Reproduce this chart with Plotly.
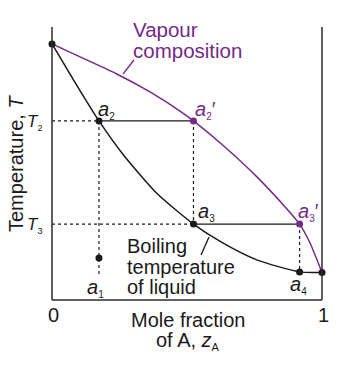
import plotly.graph_objects as go

# ---- data (mole fraction of A, temperature in axis units 0..1) ----
liquid_x = [0.0, 0.089, 0.174, 0.264, 0.388, 0.524, 0.634, 0.758, 0.917, 1.0]
liquid_y = [0.938, 0.791, 0.656, 0.532, 0.391, 0.278, 0.208, 0.147, 0.103, 0.101]
vapour_x = [0.0, 0.116, 0.240, 0.363, 0.486, 0.524, 0.634, 0.758, 0.857, 0.917, 0.956, 1.0]
vapour_y = [0.938, 0.885, 0.828, 0.762, 0.684, 0.656, 0.566, 0.452, 0.348, 0.278, 0.208, 0.101]

a1 = (0.174, 0.154)
a2 = (0.174, 0.656)
a2p = (0.524, 0.656)
a3 = (0.524, 0.278)
a3p = (0.917, 0.278)
a4 = (0.917, 0.103)
T2 = a2[1]
T3 = a3[1]
dotted_bottom = 0.092

x_ticks = [0, 1]
x_tick_labels = ["0", "1"]

PURPLE = "#742b86"
BLACK = "#1a1a1a"
AXIS = "#2b2b2b"
FONT = "Liberation Sans, Arial, sans-serif"

W, H = 359, 371
X0PX, X1PX = 52, 322
Y0PX, Y1PX = 300, 27


def px2x(px):
    return (px - X0PX) / (X1PX - X0PX)


def px2y(py):
    return (Y0PX - py) / (Y0PX - Y1PX)


fig = go.Figure()

# helper lines (dotted / tie lines)
dot = dict(color=BLACK, width=1.2, dash="dot")
solid = dict(color=BLACK, width=1.4)
fig.add_trace(go.Scatter(x=[0, a2[0]], y=[T2, T2], mode="lines", line=dot, hoverinfo="skip"))
fig.add_trace(go.Scatter(x=[0, a3[0]], y=[T3, T3], mode="lines", line=dot, hoverinfo="skip"))
fig.add_trace(go.Scatter(x=[a2[0], a1[0]], y=[a2[1], dotted_bottom], mode="lines", line=dot, hoverinfo="skip"))
fig.add_trace(go.Scatter(x=[a2p[0], a3[0]], y=[a2p[1], a3[1]], mode="lines", line=dot, hoverinfo="skip"))
fig.add_trace(go.Scatter(x=[a3p[0], a4[0]], y=[a3p[1], a4[1]], mode="lines", line=dot, hoverinfo="skip"))
fig.add_trace(go.Scatter(x=[a2[0], a2p[0]], y=[a2[1], a2p[1]], mode="lines", line=solid, hoverinfo="skip"))
fig.add_trace(go.Scatter(x=[a3[0], a3p[0]], y=[a3[1], a3p[1]], mode="lines", line=solid, hoverinfo="skip"))

# curves
fig.add_trace(go.Scatter(x=vapour_x, y=vapour_y, mode="lines",
                         line=dict(color=PURPLE, width=1.5, shape="spline", smoothing=0.6)))
fig.add_trace(go.Scatter(x=liquid_x, y=liquid_y, mode="lines",
                         line=dict(color=BLACK, width=1.5, shape="spline", smoothing=0.6)))

# points
fig.add_trace(go.Scatter(x=[liquid_x[0], liquid_x[-1], a1[0], a2[0], a3[0], a4[0]],
                         y=[liquid_y[0], liquid_y[-1], a1[1], a2[1], a3[1], a4[1]],
                         mode="markers", marker=dict(color=BLACK, size=7)))
fig.add_trace(go.Scatter(x=[a2p[0], a3p[0]], y=[a2p[1], a3p[1]],
                         mode="markers", marker=dict(color=PURPLE, size=7)))

# axis frame (left, bottom, right)
for x0, y0, x1, y1 in [(0, 0, 0, 1), (0, 0, 1, 0), (1, 0, 1, 1)]:
    fig.add_shape(type="line", x0=x0, y0=y0, x1=x1, y1=y1, line=dict(color=AXIS, width=1.5), layer="above")

# pointer lines
fig.add_shape(type="line", x0=px2x(123), y0=px2y(74), x1=px2x(134), y1=px2y(60),
              line=dict(color=PURPLE, width=1.3))
fig.add_shape(type="line", x0=px2x(209), y0=px2y(237), x1=px2x(201), y1=px2y(255),
              line=dict(color=BLACK, width=1.3))

ann = []


def text(s, xp, yp, size=20, color=BLACK, xanchor="left", yanchor="middle", angle=0):
    ann.append(dict(text=s, x=px2x(xp), y=px2y(yp), xref="x", yref="y", showarrow=False,
                    xanchor=xanchor, yanchor=yanchor, textangle=angle,
                    font=dict(family=FONT, size=size, color=color)))


def sub(s, size=10):
    return "<sub><span style='font-size:%dpx'>%s</span></sub>" % (size, s)


text("Vapour", 131, 29, color=PURPLE, size=20.5)
text("composition", 131, 50, color=PURPLE, size=20.5)
text("Boiling", 125, 246)
text("temperature", 125, 267)
text("of liquid", 125, 287)
text("Mole fraction", 188, 320, xanchor="center")
text("of A, <i>z</i>" + sub("A", 11), 188, 341, xanchor="center")
text("Temperature, <i>T</i>", 16, 164, angle=-90, xanchor="center")
text("<i>T</i>" + sub("2", 9), 44, 122, size=17, xanchor="right")
text("<i>T</i>" + sub("3", 9), 44, 225, size=17, xanchor="right")
text("<i>a</i>" + sub("2"), 96, 110)
text("<i>a</i>" + sub("2") + "′", 193, 110, color=PURPLE)
text("<i>a</i>" + sub("3"), 196, 212)
text("<i>a</i>" + sub("3") + "′", 296, 212, color=PURPLE)
text("<i>a</i>" + sub("4"), 288, 285)
text("<i>a</i>" + sub("1"), 85, 288)
for v, lab in zip(x_ticks, x_tick_labels):
    text(lab, X0PX + v * (X1PX - X0PX) + 1, 315, xanchor="center")

fig.update_layout(
    width=W, height=H, margin=dict(l=0, r=0, t=0, b=0),
    paper_bgcolor="white", plot_bgcolor="white", showlegend=False,
    annotations=ann,
    xaxis=dict(range=[px2x(0), px2x(W)], visible=False, fixedrange=True),
    yaxis=dict(range=[px2y(H), px2y(0)], visible=False, fixedrange=True),
)

fig.write_html("out.html")
